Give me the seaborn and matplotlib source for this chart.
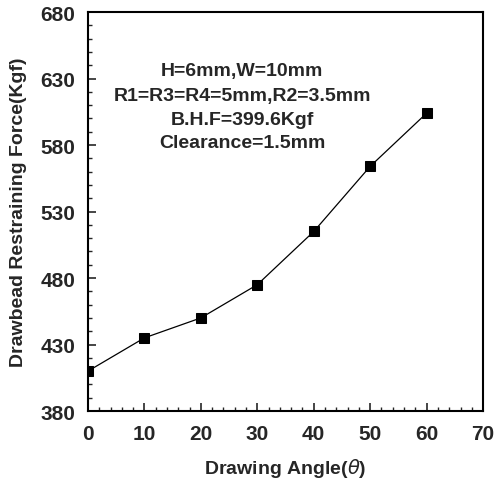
import matplotlib
matplotlib.use("Agg")
import matplotlib.pyplot as plt
import seaborn as sns
import pandas as pd
from matplotlib.ticker import MultipleLocator
from matplotlib import font_manager

sns.set_style("ticks")

names = {f.name for f in font_manager.fontManager.ttflist}
fam = ["Liberation Sans Narrow"] if "Liberation Sans Narrow" in names else ["Liberation Sans"]
plt.rcParams["font.family"] = fam + ["DejaVu Sans"]

angle = [0, 10, 20, 30, 40, 50, 60]
force = [410, 435, 450, 475, 515, 564, 604]
x_ticks = [0, 10, 20, 30, 40, 50, 60, 70]
y_ticks = [380, 430, 480, 530, 580, 630, 680]
notes = ["H=6mm,W=10mm", "R1=R3=R4=5mm,R2=3.5mm", "B.H.F=399.6Kgf", "Clearance=1.5mm"]

df = pd.DataFrame({"angle": angle, "force": force})

fig = plt.figure(figsize=(4.97, 4.85), dpi=100)
ax = fig.add_axes([0.177, 0.1505, 0.795, 0.8225])
sns.lineplot(data=df, x="angle", y="force", ax=ax, color="black", lw=0.9,
             marker="s", markersize=7, markeredgecolor="black", markerfacecolor="black")

ax.set_xlim(0, 70)
ax.set_ylim(380, 680)
ax.set_xticks(x_ticks)
ax.set_yticks(y_ticks)
ax.xaxis.set_minor_locator(MultipleLocator(2))
ax.yaxis.set_minor_locator(MultipleLocator(10))
ax.tick_params(which="major", direction="in", length=6, width=1.2, labelsize=15, pad=9,
               top=False, right=False)
ax.tick_params(which="minor", direction="in", length=3, width=1.0, top=False, right=False)
for lab in ax.get_xticklabels() + ax.get_yticklabels():
    lab.set_fontweight("bold")
for s in ax.spines.values():
    s.set_visible(True)
    s.set_linewidth(1.5)
    s.set_color("black")

ax.set_xlabel("Drawing Angle($\\theta$)", fontsize=14, fontweight="bold", labelpad=10)
ax.set_ylabel("Drawbead Restraining Force(Kgf)", fontsize=14, fontweight="bold", labelpad=10)

ypos = [636, 617, 599, 582]
for t, yv in zip(notes, ypos):
    ax.text(27.3, yv, t, ha="center", va="center", fontsize=14, fontweight="bold")

fig.savefig("out.png", dpi=100)
